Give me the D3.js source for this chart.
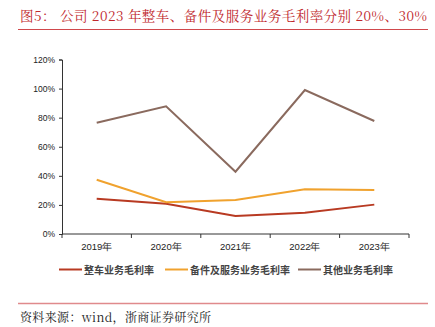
<!DOCTYPE html>
<html><head><meta charset="utf-8">
<script src="https://cdn.jsdelivr.net/npm/d3@7/dist/d3.min.js"></script>
<style>body{margin:0;background:#fff}svg{display:block}</style>
</head><body>
<script>
const categories = ["2019年","2020年","2021年","2022年","2023年"];
const vehicle = [24.3, 20.8, 12.4, 14.6, 20.2];
const parts = [37.3, 21.8, 23.4, 30.7, 30.3];
const other = [76.5, 87.8, 42.8, 99.0, 77.7];
const yTicks = [0,20,40,60,80,100,120];
const seriesNames = ["整车业务毛利率","备件及服务业务毛利率","其他业务毛利率"];
const colors = ["#b83a22","#f0a22e","#8a6a5e"];
const titleText = "图5：  公司 2023 年整车、备件及服务业务毛利率分别 20%、30%";
const sourceText = "资料来源：wind，浙商证券研究所";

const W=435,H=327;
const svg=d3.select("body").append("svg").attr("width",W).attr("height",H);
const serif="'Noto Serif CJK SC','Liberation Serif','Noto Sans CJK SC',serif";
svg.append("text").attr("x",20).attr("y",21).attr("font-family",serif)
  .attr("font-size",13.5).attr("fill","#c0282d")
  .attr("textLength",407).attr("lengthAdjust","spacing").text(titleText);
svg.append("line").attr("x1",18).attr("x2",428).attr("y1",29.5).attr("y2",29.5)
  .attr("stroke","#d0484c").attr("stroke-width",1);

const x=d3.scaleBand().domain(categories).range([62,409]);
const y=d3.scaleLinear().domain([0,120]).range([234,59.5]);

const g=svg.append("g");
const yAx=g.append("g").attr("transform","translate(62,0)")
  .call(d3.axisLeft(y).tickValues(yTicks).tickSize(3).tickFormat(d=>d+"%"));
const xAx=g.append("g").attr("transform","translate(0,234)")
  .call(d3.axisBottom(x).tickSize(0).tickPadding(9));
xAx.selectAll(".bt").data(d3.range(categories.length+1)).enter().append("line")
  .attr("x1",i=>62+i*x.step()).attr("x2",i=>62+i*x.step()).attr("y1",0).attr("y2",4)
  .attr("stroke","#333");
[yAx,xAx].forEach(a=>{
  a.select(".domain").attr("stroke","#333");
  a.selectAll(".tick line").attr("stroke","#333");
  a.selectAll("text").attr("fill","#222").attr("font-family","'Liberation Sans',Arial,sans-serif").attr("font-size",9.5);
});
yAx.selectAll("text").attr("font-size",8.5).attr("dx",-1);
xAx.select(".domain").attr("d","M62,0H409");

const line=d3.line().x((d,i)=>x(categories[i])+x.bandwidth()/2).y(d=>y(d));
[vehicle,parts,other].forEach((s,k)=>{
  svg.append("path").attr("d",line(s)).attr("fill","none")
    .attr("stroke",colors[k]).attr("stroke-width",2);
});

const legX=[59,165,298];
seriesNames.forEach((n,k)=>{
  svg.append("line").attr("x1",legX[k]).attr("x2",legX[k]+23).attr("y1",269.5).attr("y2",269.5)
    .attr("stroke",colors[k]).attr("stroke-width",2);
  svg.append("text").attr("x",legX[k]+25).attr("y",273.5).attr("font-size",10).attr("font-weight","bold")
    .attr("fill","#444").attr("font-family","'Noto Sans CJK SC',sans-serif").text(n);
});

svg.append("line").attr("x1",18).attr("x2",428).attr("y1",303.5).attr("y2",303.5)
  .attr("stroke","#e08a8c").attr("stroke-width",1.5);
svg.append("text").attr("x",20).attr("y",322).attr("font-family",serif)
  .attr("font-size",12).attr("fill","#222")
  .attr("textLength",191).attr("lengthAdjust","spacing").text(sourceText);
</script>
</body></html>
